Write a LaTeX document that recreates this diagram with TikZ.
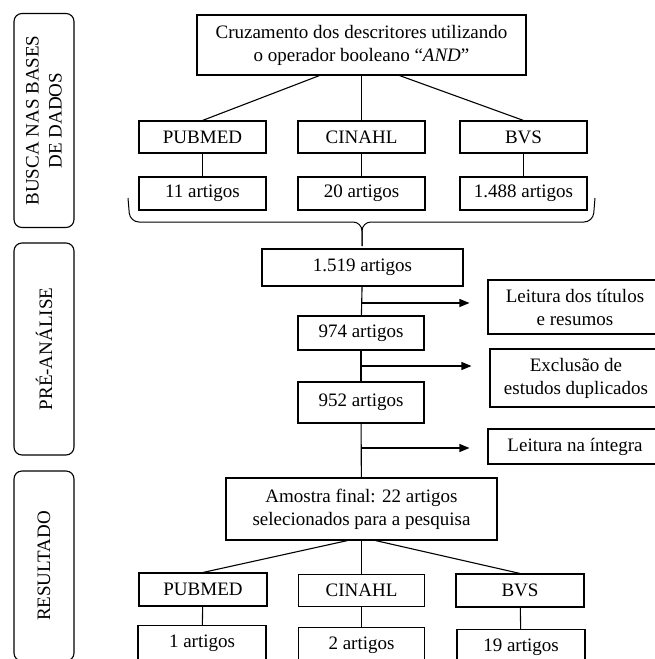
\documentclass[tikz,border=0pt]{standalone}
\usepackage{fontspec}
\setmainfont{Liberation Serif}
\usetikzlibrary{arrows.meta}

\newcommand{\fs}{\fontsize{19}{23}\selectfont}

\begin{document}
\begin{tikzpicture}[x=1pt,y=-1pt,
    box/.style={draw, line width=1.1pt, inner sep=0pt, align=center, font=\fs},
    sidebox/.style={draw, line width=1.1pt, rounded corners=8pt, inner sep=0pt,
        align=center, font=\fs, rotate=90, minimum height=60pt},
    link/.style={line width=1.1pt},
    arr/.style={line width=1.1pt, -{Triangle[length=10pt,width=8pt]}, shorten >=18pt}]
    \useasboundingbox (0,0) rectangle (654,659);

    % Side labels
    \node[sidebox, minimum width=214pt] (busca) at (44,120.5) {BUSCA NAS BASES\\DE DADOS};
    \node[sidebox, minimum width=212pt] (pre) at (44,349) {PRÉ-ANÁLISE};
    \node[sidebox, minimum width=190pt] (resultado) at (44,566) {RESULTADO};

    % Search in the databases
    \node[box, minimum width=329pt, minimum height=60pt] (cruz) at (361.5,45)
        {Cruzamento dos descritores utilizando\\o operador booleano ``\textit{AND}''};
    \node[box, minimum width=127pt, minimum height=32pt] (pub1) at (202.5,137) {PUBMED};
    \node[box, minimum width=127pt, minimum height=32pt] (cin1) at (361.5,137) {CINAHL};
    \node[box, minimum width=127pt, minimum height=32pt] (bvs1) at (523.5,137) {BVS};
    \node[box, minimum width=127pt, minimum height=33pt] (n11) at (202.5,193.5) {11 artigos};
    \node[box, minimum width=127pt, minimum height=33pt] (n20) at (361.5,193.5) {20 artigos};
    \node[box, minimum width=127pt, minimum height=33pt] (n1488) at (523.5,193.5) {1.488 artigos};

    \draw[link] ([xshift=-42pt]cruz.south) -- (pub1.north);
    \draw[link] (cruz.south) -- (cin1.north);
    \draw[link] ([xshift=38pt]cruz.south) -- (bvs1.north);
    \draw[link] (pub1) -- (n11);
    \draw[link] (cin1) -- (n20);
    \draw[link] (bvs1) -- (n1488);

    % brace under the counts
    \draw[line width=1pt, rounded corners=9pt]
        (128,198) -- (130,222) -- (362,222) -- (362,246);
    \draw[line width=1pt, rounded corners=9pt]
        (595,198) -- (593,222) -- (362,222) -- (362,246);

    % Pre-analysis
    \node[box, minimum width=201pt, minimum height=37pt] (n1519) at (362.5,267.5) {1.519 artigos};
    \node[box, minimum width=126pt, minimum height=34pt] (n974) at (361,333) {974 artigos};
    \node[box, minimum width=126pt, minimum height=41pt] (n952) at (361,402.5) {952 artigos};
    \node[box, minimum width=174pt, minimum height=54pt] (leitura) at (575,307) {Leitura dos títulos\\e resumos};
    \node[box, minimum width=172pt, minimum height=58pt] (exclusao) at (576,378) {Exclusão de\\estudos duplicados};
    \node[box, minimum width=174pt, minimum height=35pt] (integra) at (575,446.5) {Leitura na íntegra};

    \draw[link] (n1519) -- (n974);
    \draw[link] (n974) -- (n952);

    \coordinate (a1) at (362,303);
    \coordinate (a2) at (362,366);
    \coordinate (a3) at (362,448);
    \draw[arr] (a1) -- (a1 -| leitura.west);
    \draw[arr] (a2) -- (a2 -| exclusao.west);
    \draw[arr] (a3) -- (a3 -| integra.west);

    % Result
    \node[box, minimum width=271pt, minimum height=62pt] (amostra) at (361.5,509)
        {Amostra final: 22 artigos\\selecionados para a pesquisa};
    \draw[link] (n952) -- (amostra);

    \node[box, minimum width=128pt, minimum height=33pt] (pub2) at (203,589.5) {PUBMED};
    \node[box, minimum width=126pt, minimum height=32pt] (cin2) at (361.5,590.5) {CINAHL};
    \node[box, minimum width=128pt, minimum height=33pt] (bvs2) at (520,590.5) {BVS};
    \node[box, minimum width=128pt, minimum height=35pt] (n1) at (202,643) {1 artigos};
    \node[box, minimum width=126pt, minimum height=35pt] (n2) at (361.5,645) {2 artigos};
    \node[box, minimum width=128pt, minimum height=35pt] (n19) at (521,647) {19 artigos};

    \draw[link] ([xshift=-14pt]amostra.south) -- (pub2.north);
    \draw[link] (amostra.south) -- (cin2.north);
    \draw[link] ([xshift=14pt]amostra.south) -- (bvs2.north);
    \draw[link] (pub2) -- (n1);
    \draw[link] (cin2) -- (n2);
    \draw[link] (bvs2) -- (n19);
\end{tikzpicture}
\end{document}
